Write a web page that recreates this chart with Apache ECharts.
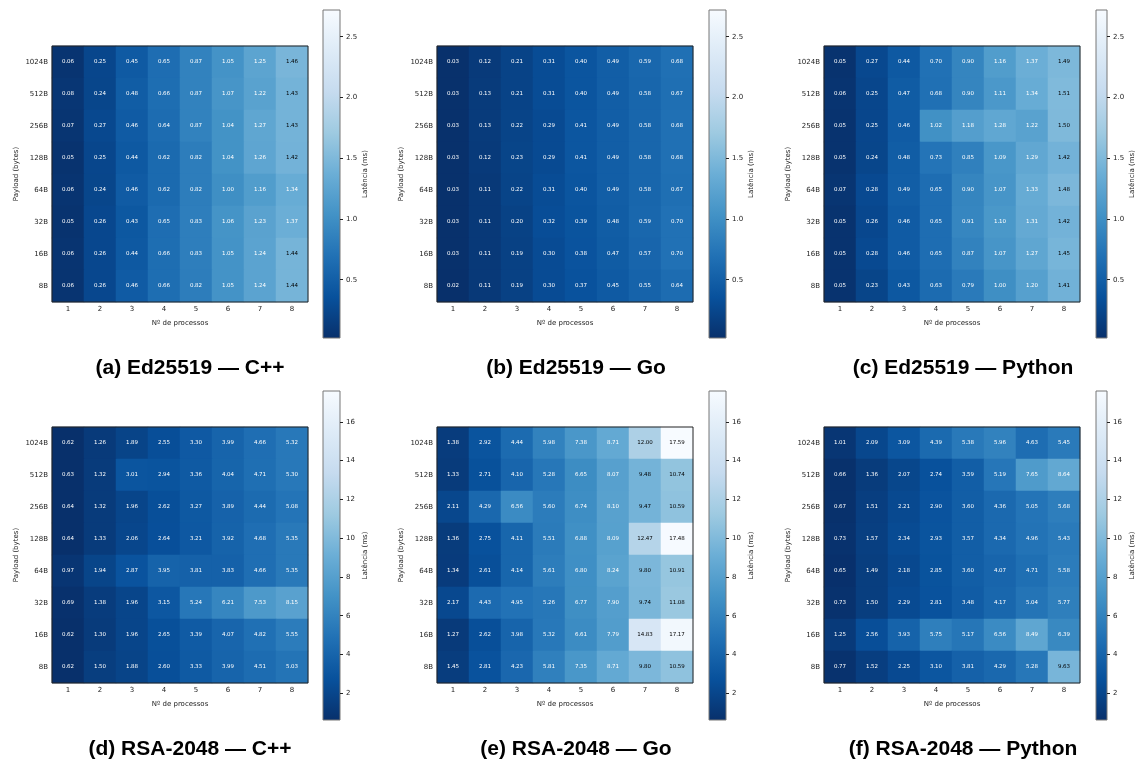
<!DOCTYPE html>
<html>
<head>
<meta charset="utf-8">
<script src="https://cdn.jsdelivr.net/npm/echarts@6/dist/echarts.min.js"></script>
<style>
  html, body { margin: 0; padding: 0; background: #fff; }
  #chart { width: 1137px; height: 767px; }
</style>
</head>
<body>
<div id="chart"></div>
<script>
// eixos
const payloads = ['1024B', '512B', '256B', '128B', '64B', '32B', '16B', '8B'];
const procs = ['1', '2', '3', '4', '5', '6', '7', '8'];

// Ed25519 (linhas de 1024B até 8B)
const edCpp = [
  [0.06, 0.25, 0.45, 0.65, 0.87, 1.05, 1.25, 1.46],
  [0.08, 0.24, 0.48, 0.66, 0.87, 1.07, 1.22, 1.43],
  [0.07, 0.27, 0.46, 0.64, 0.87, 1.04, 1.27, 1.43],
  [0.05, 0.25, 0.44, 0.62, 0.82, 1.04, 1.26, 1.42],
  [0.06, 0.24, 0.46, 0.62, 0.82, 1.00, 1.16, 1.34],
  [0.05, 0.26, 0.43, 0.65, 0.83, 1.06, 1.23, 1.37],
  [0.06, 0.26, 0.44, 0.66, 0.83, 1.05, 1.24, 1.44],
  [0.06, 0.26, 0.46, 0.66, 0.82, 1.05, 1.24, 1.44]
];
const edGo = [
  [0.03, 0.12, 0.21, 0.31, 0.40, 0.49, 0.59, 0.68],
  [0.03, 0.13, 0.21, 0.31, 0.40, 0.49, 0.58, 0.67],
  [0.03, 0.13, 0.22, 0.29, 0.41, 0.49, 0.58, 0.68],
  [0.03, 0.12, 0.23, 0.29, 0.41, 0.49, 0.58, 0.68],
  [0.03, 0.11, 0.22, 0.31, 0.40, 0.49, 0.58, 0.67],
  [0.03, 0.11, 0.20, 0.32, 0.39, 0.48, 0.59, 0.70],
  [0.03, 0.11, 0.19, 0.30, 0.38, 0.47, 0.57, 0.70],
  [0.02, 0.11, 0.19, 0.30, 0.37, 0.45, 0.55, 0.64]
];
const edPy = [
  [0.05, 0.27, 0.44, 0.70, 0.90, 1.16, 1.37, 1.49],
  [0.06, 0.25, 0.47, 0.68, 0.90, 1.11, 1.34, 1.51],
  [0.05, 0.25, 0.46, 1.02, 1.18, 1.28, 1.22, 1.50],
  [0.05, 0.24, 0.48, 0.73, 0.85, 1.09, 1.29, 1.42],
  [0.07, 0.28, 0.49, 0.65, 0.90, 1.07, 1.33, 1.48],
  [0.05, 0.26, 0.46, 0.65, 0.91, 1.10, 1.31, 1.42],
  [0.05, 0.28, 0.46, 0.65, 0.87, 1.07, 1.27, 1.45],
  [0.05, 0.23, 0.43, 0.63, 0.79, 1.00, 1.20, 1.41]
];

// RSA-2048
const rsaCpp = [
  [0.62, 1.26, 1.89, 2.55, 3.30, 3.99, 4.66, 5.32],
  [0.63, 1.32, 3.01, 2.94, 3.36, 4.04, 4.71, 5.30],
  [0.64, 1.32, 1.96, 2.62, 3.27, 3.89, 4.44, 5.08],
  [0.64, 1.33, 2.06, 2.64, 3.21, 3.92, 4.68, 5.35],
  [0.97, 1.94, 2.87, 3.95, 3.81, 3.83, 4.66, 5.35],
  [0.69, 1.38, 1.96, 3.15, 5.24, 6.21, 7.53, 8.15],
  [0.62, 1.30, 1.96, 2.65, 3.39, 4.07, 4.82, 5.55],
  [0.62, 1.50, 1.88, 2.60, 3.33, 3.99, 4.51, 5.03]
];
const rsaGo = [
  [1.38, 2.92, 4.44, 5.98, 7.38, 8.71, 12.00, 17.59],
  [1.33, 2.71, 4.10, 5.28, 6.65, 8.07, 9.48, 10.74],
  [2.11, 4.29, 6.56, 5.60, 6.74, 8.10, 9.47, 10.59],
  [1.36, 2.75, 4.11, 5.51, 6.88, 8.09, 12.47, 17.48],
  [1.34, 2.61, 4.14, 5.61, 6.80, 8.24, 9.80, 10.91],
  [2.17, 4.43, 4.95, 5.26, 6.77, 7.90, 9.74, 11.08],
  [1.27, 2.62, 3.98, 5.32, 6.61, 7.79, 14.83, 17.17],
  [1.45, 2.81, 4.23, 5.81, 7.35, 8.71, 9.80, 10.59]
];
const rsaPy = [
  [1.01, 2.09, 3.09, 4.39, 5.38, 5.96, 4.63, 5.45],
  [0.66, 1.36, 2.07, 2.74, 3.59, 5.19, 7.65, 8.64],
  [0.67, 1.51, 2.21, 2.90, 3.60, 4.36, 5.05, 5.68],
  [0.73, 1.57, 2.34, 2.93, 3.57, 4.34, 4.96, 5.43],
  [0.65, 1.49, 2.18, 2.85, 3.60, 4.07, 4.71, 5.58],
  [0.73, 1.50, 2.29, 2.81, 3.48, 4.17, 5.04, 5.77],
  [1.25, 2.56, 3.93, 5.75, 5.17, 6.56, 8.49, 6.39],
  [0.77, 1.52, 2.25, 3.10, 3.81, 4.29, 5.28, 9.63]
];

// escala de cores (min/max por linha de figuras) e ticks da barra
const edRange = [0.02, 2.72];
const rsaRange = [0.62, 17.59];
const edTicks = [0.5, 1.0, 1.5, 2.0, 2.5];
const rsaTicks = [2, 4, 6, 8, 10, 12, 14, 16];

const titles = [
  '(a) Ed25519 — C++', '(b) Ed25519 — Go', '(c) Ed25519 — Python',
  '(d) RSA-2048 — C++', '(e) RSA-2048 — Go', '(f) RSA-2048 — Python'
];
const matrices = [edCpp, edGo, edPy, rsaCpp, rsaGo, rsaPy];

// Blues invertido (matplotlib Blues_r)
const bluesR = ['#08306b', '#08519c', '#2171b5', '#4292c6', '#6baed6',
                '#9ecae1', '#c6dbef', '#deebf7', '#f7fbff'];

const myChart = echarts.init(document.getElementById('chart'));

const colX = [52, 437, 824];
const cbX = [323, 709, 1096];
const titleX = [190, 576, 963];
const rowY = [46, 427];
const cbY = [10, 391];
const titleY = [358, 739];

// gradiente da barra de cores (de cima = claro para baixo = escuro)
const cbGradient = new echarts.graphic.LinearGradient(0, 0, 0, 1,
  bluesR.slice().reverse().map(function (c, k) {
    return { offset: k / (bluesR.length - 1), color: c };
  }));

const grids = [], xAxes = [], yAxes = [], series = [], visualMaps = [], titleList = [];
const axisFont = { fontFamily: 'DejaVu Sans', fontSize: 7, color: '#222' };

matrices.forEach(function (mat, i) {
  const row = Math.floor(i / 3), col = i % 3;
  const range = row === 0 ? edRange : rsaRange;
  const mid = (range[0] + range[1]) / 2;

  grids.push({
    left: colX[col], top: rowY[row], width: 256, height: 256,
    show: true, borderColor: '#222', borderWidth: 1, z: 10
  });
  xAxes.push({
    type: 'category', gridIndex: i, data: procs, position: 'bottom',
    name: 'Nº de processos', nameLocation: 'middle', nameGap: 18,
    nameTextStyle: axisFont,
    axisLine: { show: false },
    axisTick: { alignWithLabel: true, length: 3, lineStyle: { color: '#222' } },
    axisLabel: Object.assign({ margin: 4 }, axisFont),
    splitLine: { show: false }
  });
  yAxes.push({
    type: 'category', gridIndex: i, data: payloads, inverse: true,
    name: 'Payload (bytes)', nameLocation: 'middle', nameGap: 32,
    nameTextStyle: axisFont,
    axisLine: { show: false },
    axisTick: { alignWithLabel: true, length: 3, lineStyle: { color: '#222' } },
    axisLabel: Object.assign({ margin: 4 }, axisFont),
    splitLine: { show: false }
  });

  const data = [];
  mat.forEach(function (vals, r) {
    vals.forEach(function (v, c) {
      data.push({
        value: [c, r, v],
        label: { color: v > mid ? '#000' : '#fff' }
      });
    });
  });
  series.push({
    type: 'heatmap', xAxisIndex: i, yAxisIndex: i, data: data,
    label: {
      show: true, fontFamily: 'DejaVu Sans', fontSize: 5.5,
      formatter: function (p) { return p.value[2].toFixed(2); }
    },
    emphasis: { disabled: true },
    progressive: 0
  });

  visualMaps.push({
    type: 'continuous', seriesIndex: i, dimension: 2, show: false,
    min: range[0], max: range[1],
    inRange: { color: bluesR }
  });

  titleList.push({
    text: titles[i], left: titleX[col], top: titleY[row], textAlign: 'center', padding: 0,
    textStyle: { fontFamily: 'Liberation Sans', fontWeight: 'bold', fontSize: 21, color: '#000' }
  });
});

// barras de cores: grids com fundo em gradiente e eixo para os ticks
matrices.forEach(function (mat, i) {
  const row = Math.floor(i / 3), col = i % 3;
  const range = row === 0 ? edRange : rsaRange;
  const ticks = row === 0 ? edTicks : rsaTicks;
  grids.push({
    left: cbX[col], top: cbY[row], width: 17, height: row === 0 ? 328 : 329,
    show: true, backgroundColor: cbGradient, borderColor: '#777', borderWidth: 1
  });
  xAxes.push({ type: 'value', gridIndex: 6 + i, show: false, min: 0, max: 1 });
  yAxes.push({
    type: 'value', gridIndex: 6 + i, position: 'right',
    min: range[0], max: range[1],
    name: 'Latência (ms)', nameLocation: 'middle', nameGap: 22,
    nameTextStyle: axisFont,
    axisLine: { show: false, onZero: false },
    axisTick: { show: true, inside: false, length: 3, customValues: ticks, lineStyle: { color: '#222' } },
    axisLabel: Object.assign({
      margin: 6, customValues: ticks,
      formatter: function (v) { return row === 0 ? v.toFixed(1) : String(v); }
    }, axisFont),
    splitLine: { show: false }
  });
});

myChart.setOption({
  animation: false,
  title: titleList,
  grid: grids,
  xAxis: xAxes,
  yAxis: yAxes,
  visualMap: visualMaps,
  series: series
});
</script>
</body>
</html>
